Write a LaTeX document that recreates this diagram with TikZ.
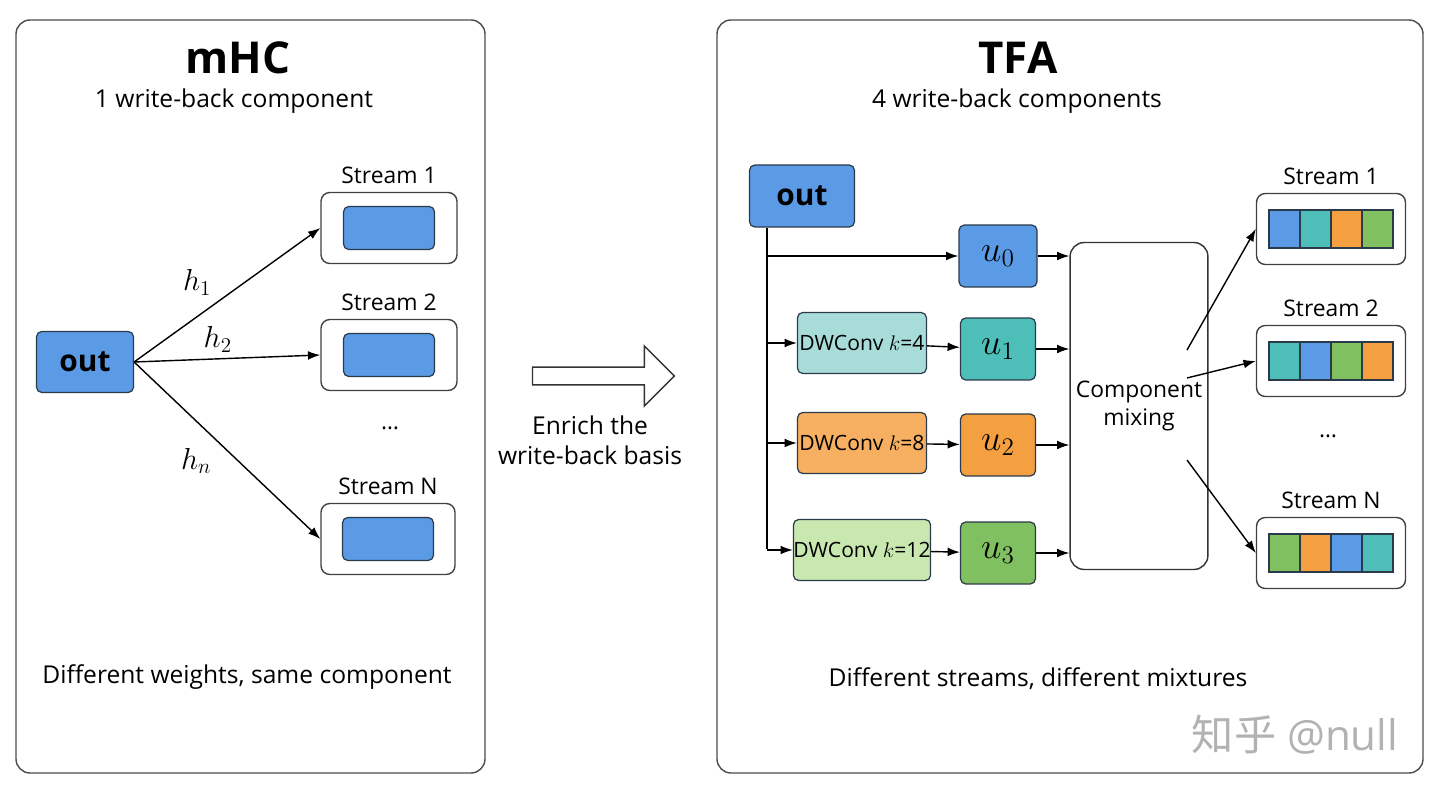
\documentclass[tikz,border=0pt]{standalone}
\usepackage{fontspec}
\setmainfont{Open Sans}
\newfontfamily\cjkfont{Noto Sans CJK SC}
\usetikzlibrary{arrows.meta,positioning,shapes.arrows,calc}
\definecolor{cblue}{HTML}{5B9BE6}
\definecolor{cteal}{HTML}{4DBFB8}
\definecolor{corange}{HTML}{F5A040}
\definecolor{cgreen}{HTML}{80C060}
\definecolor{lteal}{HTML}{A8DCD8}
\definecolor{lorange}{HTML}{F7B062}
\definecolor{lgreen}{HTML}{C8E8B0}
\definecolor{edge}{HTML}{2A3A4A}
\tikzset{
  panel/.style={draw=black!70, rounded corners=8pt, line width=0.8pt},
  blk/.style={draw=edge, rounded corners=3pt, line width=0.7pt, inner sep=0pt},
  outbox/.style={blk, fill=cblue, minimum width=1.94cm, minimum height=1.22cm, font=\fontsize{17}{20}\selectfont\bfseries},
  conv/.style={blk, minimum width=2.58cm, minimum height=1.22cm, font=\fontsize{12}{14}\selectfont},
  ubox/.style={blk, minimum width=1.5cm, minimum height=1.24cm, font=\fontsize{22}{24}\selectfont},
  streambox/.style={draw=black!75, rounded corners=5pt, line width=0.8pt, minimum width=2.8cm, minimum height=1.42cm, fill=white},
  lbl/.style={font=\fontsize{13}{15}\selectfont},
  arr/.style={-{Latex[length=7pt,width=5pt]}, line width=0.8pt},
}
\begin{document}
\begin{tikzpicture}[x=0.02cm, y=-0.02cm]
    \useasboundingbox (0,0) rectangle (1440,793);
    
    % left panel
    \draw[panel] (16,20) rectangle (485,773);
    \node[font=\fontsize{25}{28}\selectfont\bfseries] (ltitle) at (238,58) {mHC};
    \node[font=\fontsize{14}{16}\selectfont] (lsub) at (234,101) {1 write-back component};
    \node[outbox] (lout) at (85,362) {out};
    
    \node[streambox, minimum width=2.72cm] (ls1) at (389,228) {};
    \node[streambox, minimum width=2.72cm] (ls2) at (389,355) {};
    \node[streambox, minimum width=2.68cm] (lsn) at (388,539) {};
    \foreach \s in {ls1,ls2,lsn}
    \node[blk, fill=cblue, minimum width=1.82cm, minimum height=0.86cm] at (\s) {};
    \node[lbl, above=1pt of ls1] {Stream 1};
    \node[lbl, above=1pt of ls2] {Stream 2};
    \node[lbl, above=1pt of lsn] {Stream N};
    \node[lbl] (ldots) at (390,428) {\dots};
    
    \draw[arr] (lout.east) -- (ls1.west) node[pos=0.45, above left, font=\fontsize{18}{20}\selectfont] {$h_1$};
    \draw[arr] (lout.east) -- (ls2.west) node[pos=0.45, above, font=\fontsize{18}{20}\selectfont] {$h_2$};
    \draw[arr] (lout.east) -- (lsn.west) node[pos=0.45, below left, font=\fontsize{18}{20}\selectfont] {$h_n$};
    \node[font=\fontsize{14}{16}\selectfont] (lbot) at (247,677) {Different weights, same component};
    
    % middle arrow
    \node[single arrow, draw=black!80, line width=0.8pt, fill=white, minimum height=2.84cm, minimum width=1.2cm,
      single arrow head extend=0.2cm, inner sep=2pt] (enrich) at (599,376) {};
    \node[font=\fontsize{14}{17}\selectfont, align=center] (enrichtxt) at (590,440) {Enrich the\\write-back basis};
    
    % right panel
    \draw[panel] (717,20) rectangle (1423,773);
    \node[font=\fontsize{25}{28}\selectfont\bfseries] (rtitle) at (1018,58) {TFA};
    \node[font=\fontsize{14}{16}\selectfont] (rsub) at (1017,101) {4 write-back components};
    \node[outbox, minimum width=2.1cm, minimum height=1.24cm] (rout) at (802,196) {out};
    
    \node[ubox, fill=cblue, minimum width=1.56cm] (u0) at (998,256) {$u_0$};
    \node[conv, fill=lteal] (c1) at (862,343) {DWConv $k$=4};
    \node[conv, fill=lorange] (c2) at (862,443) {DWConv $k$=8};
    \node[conv, fill=lgreen] (c3) at (862,550) {DWConv $k$=12};
    \node[ubox, fill=cteal] (u1) at (998,349) {$u_1$};
    \node[ubox, fill=corange] (u2) at (998,445) {$u_2$};
    \node[ubox, fill=cgreen] (u3) at (998,553) {$u_3$};
    \node[draw=black!80, rounded corners=8pt, line width=0.8pt, minimum width=1.9cm, minimum height=6.54cm,
      align=center, font=\fontsize{13}{16}\selectfont] (mix) at (1139,406) {Component\\mixing};
    
    \coordinate (trunk) at (767,549);
    \draw[line width=0.8pt] (rout.south -| trunk) -- (trunk);
    \draw[arr] (rout.south -| trunk) |- (u0.west);
    \foreach \c/\u in {c1/u1,c2/u2,c3/u3} {
      \draw[arr] (trunk |- \c.west) -- (\c.west);
      \draw[arr] (\c) -- (\u);
    }
    \foreach \u in {u0,u1,u2,u3}
    \draw[arr] (\u.east) -- (\u.east -| mix.west);
    
    \node[streambox, minimum width=2.98cm] (rs1) at (1331,229) {};
    \node[streambox, minimum width=2.98cm] (rs2) at (1331,361) {};
    \node[streambox, minimum width=2.98cm] (rsn) at (1331,553) {};
    \node[lbl, above=1pt of rs1] {Stream 1};
    \node[lbl, above=1pt of rs2] {Stream 2};
    \node[lbl, above=1pt of rsn] {Stream N};
    \node[lbl] (rdots) at (1328,436) {\dots};
    \foreach \s/\ca/\cb/\cc/\cd in {rs1/cblue/cteal/corange/cgreen, rs2/cteal/cblue/cgreen/corange, rsn/cgreen/corange/cblue/cteal} {
      \foreach \col [count=\i] in {\ca,\cb,\cc,\cd}
      \draw[draw=edge, fill=\col, line width=0.7pt] ($(\s.center)+(-62+\i*31-31,-19)$) rectangle ++(31,38);
    }
    \draw[arr] (1187,350) -- (rs1.west);
    \draw[arr] (1187,378) -- (rs2.west);
    \draw[arr] (1187,460) -- (rsn.west);
    \node[font=\fontsize{14}{16}\selectfont] (rbot) at (1038,679) {Different streams, different mixtures};
    
    \node[text=black!30, font=\fontsize{24}{26}\selectfont] (mark) at (1295,735) {{\cjkfont 知乎} @null};
   
\end{tikzpicture}
\end{document}
